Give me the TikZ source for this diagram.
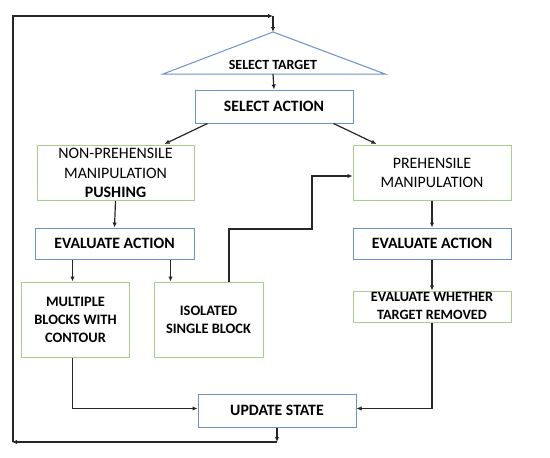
\documentclass[tikz,border=0pt]{standalone}
\usepackage{fontspec}
\setmainfont{Carlito}
\usetikzlibrary{arrows.meta,calc}
\definecolor{bluebd}{HTML}{6E90CC}
\definecolor{greenbd}{HTML}{A6CF8A}
\definecolor{lnc}{HTML}{262626}
\tikzset{
  bluebox/.style={draw=bluebd,line width=1pt,fill=white,inner sep=0pt,align=center},
  greenbox/.style={draw=greenbd,line width=1pt,fill=white,inner sep=0pt,align=center},
  arr/.style={draw=lnc,line width=1.2pt,-{Latex[length=5pt,width=4.5pt]}},
  bigb/.style={font=\fontsize{15.8}{18}\selectfont\bfseries},
  smallb/.style={font=\fontsize{14.4}{18}\selectfont\bfseries},
}
\begin{document}
\begin{tikzpicture}[x=1pt,y=-1pt]
\useasboundingbox (0,0) rectangle (550,458);
% triangle
\coordinate (apex) at (273,32);
\coordinate (tl) at (163,74);
\coordinate (trr) at (385,74);
\coordinate (tb) at (273,74);
\draw[draw=bluebd,line width=1pt] (apex) -- (trr) -- (tl) -- cycle;
\node[font=\fontsize{14}{18}\selectfont\bfseries,anchor=base] (tgt) at (273,69) {SELECT TARGET};
% boxes
\node[bluebox,bigb,minimum width=158pt,minimum height=33pt] (sa) at (274,106.5) {SELECT ACTION};
\node[greenbox,font=\fontsize{15.9}{19.5}\selectfont,minimum width=157pt,minimum height=55pt] (np) at (115.5,173) {NON-PREHENSILE\\MANIPULATION\\\textbf{PUSHING}};
\node[greenbox,font=\fontsize{15.9}{19.5}\selectfont,minimum width=158pt,minimum height=55pt] (pm) at (432,173) {PREHENSILE\\MANIPULATION};
\node[bluebox,bigb,minimum width=159pt,minimum height=31pt] (eal) at (114.5,243.5) {EVALUATE ACTION};
\node[bluebox,bigb,minimum width=158pt,minimum height=31pt] (ear) at (432,243.5) {EVALUATE ACTION};
\node[greenbox,smallb,minimum width=108pt,minimum height=75pt] (mb) at (75.5,319.5) {MULTIPLE\\BLOCKS WITH\\CONTOUR};
\node[greenbox,smallb,minimum width=109pt,minimum height=75pt] (is) at (208.5,319.5) {ISOLATED\\SINGLE BLOCK};
\node[greenbox,minimum width=158pt,minimum height=31pt] (ew) at (432,306.5) {};
\node[font=\fontsize{14.2}{17.5}\selectfont\bfseries,align=center,inner sep=0pt] (ewt) at (432,306) {EVALUATE WHETHER\\TARGET REMOVED};
\node[bluebox,bigb,minimum width=158pt,minimum height=33pt] (us) at (277,410.5) {UPDATE STATE};
% connectors
\draw[arr] (tb) -- (sa.north);
\draw[arr] ([xshift=13pt]sa.south west) -- ([xshift=128pt,yshift=1pt]np.north west);
\draw[arr] ([xshift=-20pt]sa.south east) -- ([xshift=24pt,yshift=1pt]pm.north west);
\draw[arr] (np.south) -- (eal.north);
\draw[arr] (pm.south) -- (ear.north);
\draw[arr] (ear.south) -- (ew.north);
\coordinate (c1) at ([xshift=-3pt]mb.north);
\coordinate (c2) at ([xshift=17pt]is.north west);
\draw[arr] (c1 |- eal.south) -- (c1);
\draw[arr] (c2 |- eal.south) -- (c2);
\coordinate (c3) at ([xshift=20.5pt]is.north);
\coordinate (bend1) at (312,229);
\draw[arr] (c3) |- (bend1) |- ([yshift=-3pt]pm.west);
\coordinate (c4) at ([xshift=-3pt]mb.south);
\draw[arr] (c4) |- ([yshift=2pt]us.west);
\draw[arr] (ew.south) |- ([yshift=2pt]us.east);
\coordinate (lb) at (277,442);
\coordinate (bl) at (12,442);
\coordinate (tr) at (273,16);
\draw[arr] (us.south) -- (lb);
\draw[arr] (lb) -- (bl);
\draw[arr] ([xshift=1pt]bl) |- (tr);
\draw[arr] (tr) -- (apex);
\end{tikzpicture}
\end{document}
